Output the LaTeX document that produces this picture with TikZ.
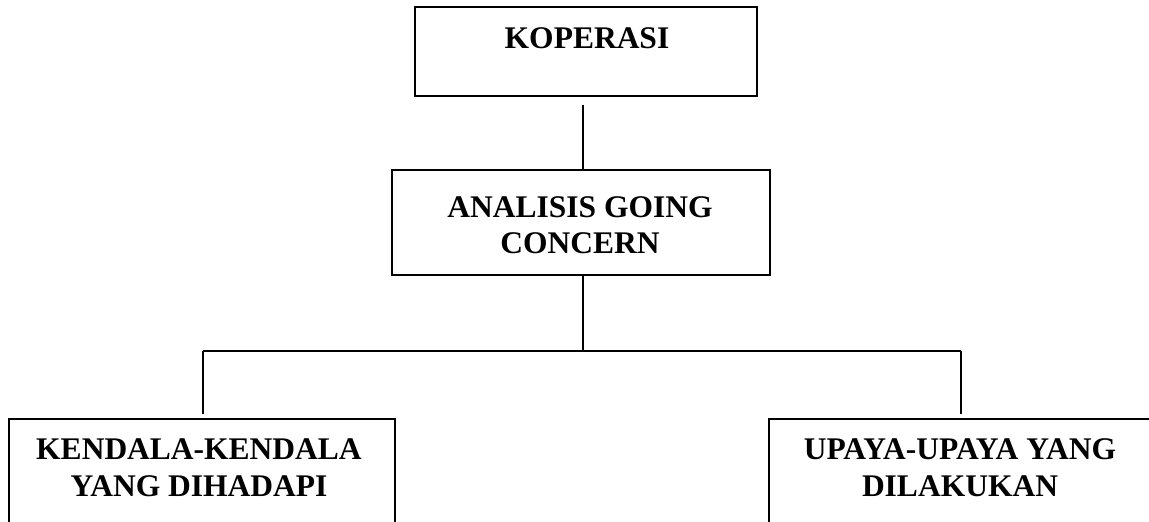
\documentclass[tikz,border=0pt]{standalone}
\usepackage{fontspec}
\setmainfont{Liberation Serif}
\begin{document}
\begin{tikzpicture}[x=1pt,y=-1pt,
  box/.style={draw, line width=1.6pt, rectangle, inner sep=0pt},
  lbl/.style={font=\fontsize{31.5}{37}\selectfont\bfseries, align=center, inner sep=0pt},
  conn/.style={line width=1.6pt}]
\useasboundingbox (0,0) rectangle (1149,522);
\clip (0,0) rectangle (1149,522);
% boxes
\node[box, minimum width=342pt, minimum height=89pt] (kop) at (586,51.5) {};
\node[box, minimum width=378pt, minimum height=105pt] (ana) at (581,222.5) {};
\node[box, minimum width=386pt, minimum height=160pt] (ken) at (202,499) {};
\node[box, minimum width=384pt, minimum height=160pt] (upa) at (961,499) {};
% texts
\node[lbl, anchor=base] (kopt) at (587,48) {KOPERASI};
\node[lbl, anchor=base] (anat1) at (580,217) {ANALISIS GOING};
\node[lbl, anchor=base] (anat2) at (580,253) {CONCERN};
\node[lbl, anchor=base] (kent1) at (199,459) {KENDALA-KENDALA};
\node[lbl, anchor=base] (kent2) at (199,496) {YANG DIHADAPI};
\node[lbl, anchor=base] (upat1) at (960,459) {UPAYA-UPAYA YANG};
\node[lbl, anchor=base] (upat2) at (960,496) {DILAKUKAN};
% connectors
\coordinate (hub) at (583,351);
\coordinate (hl) at (203,351);
\coordinate (hr) at (961,351);
\draw[conn, shorten <=8pt] (kop.south -| hub) -- (ana.north -| hub);
\draw[conn] (ana.south -| hub) -- (hub);
\draw[conn] (hl) -- (hr);
\draw[conn, shorten >=4pt] (hl) -- (ken.north -| hl);
\draw[conn, shorten >=4pt] (hr) -- (upa.north -| hr);
\end{tikzpicture}
\end{document}
